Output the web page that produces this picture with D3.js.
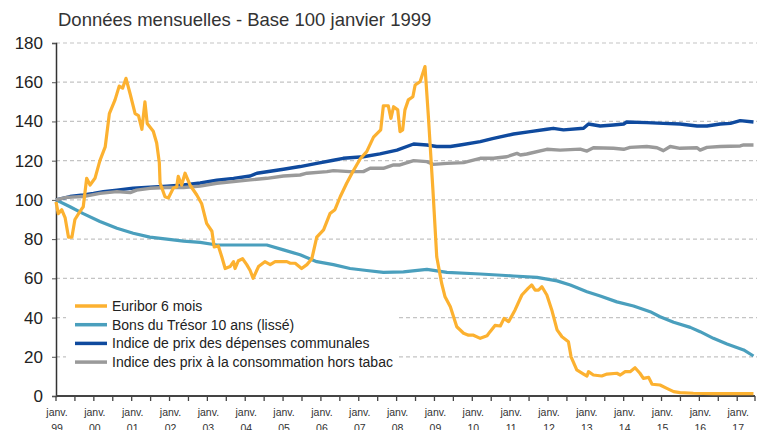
<!DOCTYPE html>
<html>
<head>
<meta charset="utf-8">
<script src="https://cdn.jsdelivr.net/npm/d3@7"></script>
<style>
  html, body { margin: 0; padding: 0; background: #fff; }
  svg { display: block; font-family: "Liberation Sans", Arial, sans-serif; }
</style>
</head>
<body>
<div id="chart"></div>
<script>
// [decimal year, value]
const euribor = [
  [1999.00, 99], [1999.06, 93], [1999.15, 95], [1999.24, 91], [1999.33, 81], [1999.42, 81],
  [1999.50, 90], [1999.63, 94], [1999.72, 96.5], [1999.81, 111], [1999.90, 107.6], [2000.03, 111],
  [2000.16, 120], [2000.30, 127], [2000.41, 144], [2000.56, 151], [2000.67, 158], [2000.76, 157],
  [2000.85, 162], [2000.96, 154], [2001.09, 144], [2001.18, 143], [2001.27, 136], [2001.35, 150],
  [2001.41, 139], [2001.57, 135], [2001.66, 129], [2001.73, 119], [2001.75, 108.6], [2001.88, 101.6],
  [2001.97, 101], [2002.10, 106], [2002.19, 106.7], [2002.23, 112], [2002.32, 107.6], [2002.41, 113.6],
  [2002.54, 107.6], [2002.72, 102.5], [2002.85, 98], [2002.98, 88], [2003.12, 84], [2003.18, 76],
  [2003.29, 76.5], [2003.38, 71], [2003.47, 65], [2003.60, 66], [2003.69, 68.5], [2003.73, 65],
  [2003.82, 69], [2003.93, 70], [2004.04, 67], [2004.13, 64], [2004.21, 60], [2004.35, 66],
  [2004.52, 68.5], [2004.66, 67], [2004.79, 68.5], [2004.97, 68.5], [2005.10, 68.5], [2005.19, 67.7],
  [2005.32, 67.7], [2005.49, 65], [2005.63, 67], [2005.76, 70], [2005.89, 81], [2006.07, 84.7],
  [2006.24, 93], [2006.37, 95], [2006.51, 101.6], [2006.68, 108.5], [2006.86, 115], [2007.04, 121],
  [2007.21, 124.6], [2007.39, 132], [2007.58, 135.7], [2007.65, 148], [2007.78, 148], [2007.85, 141.6],
  [2007.92, 147.5], [2008.03, 145.9], [2008.09, 134.8], [2008.16, 135.7], [2008.22, 145.9], [2008.31, 151],
  [2008.43, 152.6], [2008.49, 158.6], [2008.62, 160.3], [2008.75, 168], [2008.84, 142.4], [2008.96, 105],
  [2009.06, 71], [2009.19, 57.5], [2009.28, 50.6], [2009.42, 45.5], [2009.59, 35.3], [2009.77, 32],
  [2009.90, 31], [2010.03, 31], [2010.21, 29.4], [2010.39, 30.7], [2010.47, 32.8], [2010.60, 36],
  [2010.74, 35.7], [2010.84, 39.6], [2010.96, 37.9], [2011.13, 43.9], [2011.31, 51.5], [2011.48, 55],
  [2011.57, 56.6], [2011.66, 54], [2011.75, 54], [2011.84, 55.7], [2011.97, 51.5], [2012.10, 43.9],
  [2012.24, 33.7], [2012.37, 30.2], [2012.54, 27.7], [2012.61, 20], [2012.76, 13.3], [2012.94, 11.2],
  [2013.03, 10.2], [2013.07, 12.4], [2013.20, 10.7], [2013.42, 10.2], [2013.56, 11.2], [2013.82, 11.6],
  [2013.91, 10.7], [2014.04, 12.4], [2014.17, 12.4], [2014.30, 14.4], [2014.43, 11.6], [2014.52, 9],
  [2014.66, 9.5], [2014.75, 6], [2014.96, 5.6], [2015.14, 3.9], [2015.32, 2.2], [2015.49, 1.7],
  [2015.84, 1.4], [2016.37, 1.2], [2017.43, 1.2]
];

const bonsTresor = [
  [1999.00, 100], [1999.37, 96.5], [1999.72, 93], [2000.16, 89], [2000.61, 85.5], [2001.04, 83],
  [2001.48, 81], [2001.93, 80], [2002.37, 79], [2002.81, 78.3], [2003.25, 77], [2003.69, 77],
  [2004.57, 77], [2005.01, 74.5], [2005.45, 72], [2005.89, 68.5], [2006.33, 67], [2006.77, 65],
  [2007.21, 64], [2007.65, 63], [2008.18, 63.3], [2008.80, 64.6], [2009.33, 63], [2010.21, 62.2],
  [2011.09, 61.2], [2011.71, 60.5], [2012.24, 58.7], [2012.59, 56.6], [2013.03, 53.2], [2013.38, 51],
  [2013.82, 48], [2014.26, 45.9], [2014.70, 43], [2014.96, 40.4], [2015.32, 37.6], [2015.76, 35],
  [2016.02, 32.8], [2016.37, 29.4], [2016.73, 26.5], [2017.17, 23.5], [2017.43, 20.4]
];

const depensesCommunales = [
  [1999.00, 100], [1999.37, 101.7], [1999.72, 102.5], [1999.99, 103.3], [2000.25, 104.2], [2000.61, 105],
  [2001.04, 106], [2001.48, 106.5], [2001.93, 107], [2002.37, 107.6], [2002.81, 108.6], [2003.25, 110],
  [2003.69, 111], [2004.13, 112.2], [2004.31, 113.6], [2005.01, 115.6], [2005.45, 117], [2005.89, 118.6],
  [2006.33, 120.2], [2006.59, 121.2], [2007.12, 122], [2007.56, 123.5], [2008.01, 125.4], [2008.45, 128.5],
  [2008.80, 128], [2009.06, 127.2], [2009.42, 127.2], [2009.68, 128], [2010.21, 129.7], [2010.56, 131.4],
  [2011.09, 133.6], [2011.53, 134.8], [2011.97, 136], [2012.14, 136.5], [2012.41, 135.7], [2012.94, 136.5],
  [2013.07, 138.7], [2013.38, 137.7], [2013.73, 138.2], [2014.00, 138.7], [2014.08, 139.7], [2014.61, 139.4],
  [2015.05, 139], [2015.49, 138.7], [2015.94, 137.7], [2016.20, 137.7], [2016.55, 138.7], [2016.82, 139],
  [2017.08, 140.4], [2017.43, 139.7]
];

const prixConso = [
  [1999.00, 100], [1999.28, 101.3], [1999.72, 101.7], [2000.16, 103.3], [2000.61, 104.2], [2000.96, 103.7],
  [2001.13, 105], [2001.48, 105.9], [2001.93, 106.3], [2002.37, 106.3], [2002.81, 107], [2003.25, 108.5],
  [2003.69, 109.3], [2004.13, 110.2], [2004.57, 111], [2005.01, 112.2], [2005.45, 112.7], [2005.63, 113.6],
  [2006.16, 114.4], [2006.33, 114.9], [2006.77, 114.4], [2007.12, 114.4], [2007.30, 116.1], [2007.65, 116.1],
  [2007.92, 117.8], [2008.09, 117.8], [2008.45, 120], [2008.80, 119.5], [2008.97, 118.1], [2009.33, 118.6],
  [2009.77, 119], [2010.21, 121.2], [2010.56, 121.2], [2010.91, 122], [2011.18, 123.7], [2011.27, 122.9],
  [2011.44, 123.4], [2011.97, 125.8], [2012.32, 125.4], [2012.85, 125.9], [2013.03, 124.9], [2013.20, 126.6],
  [2013.73, 126.3], [2014.00, 125.8], [2014.17, 126.8], [2014.61, 127.2], [2014.88, 126.6], [2015.05, 125.1],
  [2015.23, 127.2], [2015.49, 126.3], [2015.94, 126.6], [2016.02, 125.4], [2016.20, 126.8], [2016.55, 127.2],
  [2017.08, 127.5], [2017.17, 128], [2017.43, 128]
];

const yTicks = [0, 20, 40, 60, 80, 100, 120, 140, 160, 180];
const yearLabels = ["99", "00", "01", "02", "03", "04", "05", "06", "07", "08",
  "09", "10", "11", "12", "13", "14", "15", "16", "17"];
const legendLabels = [
  "Euribor 6 mois",
  "Bons du Trésor 10 ans (lissé)",
  "Indice de prix des dépenses communales",
  "Indice des prix à la consommation hors tabac"
];

const width = 763, height = 430;
const svg = d3.select("#chart").append("svg")
  .attr("width", width)
  .attr("height", height);

const x = d3.scaleLinear().domain([1999, 2017.47]).range([56, 755]);
const y = d3.scaleLinear().domain([0, 180]).range([396, 43]);

svg.append("text")
  .attr("x", 58).attr("y", 26)
  .attr("font-size", 18.5).attr("fill", "#333")
  .text("Données mensuelles - Base 100 janvier 1999");

// grid
svg.append("g")
  .selectAll("line")
  .data(yTicks.filter((d) => d > 0))
  .join("line")
  .attr("x1", x(1999)).attr("x2", 757)
  .attr("y1", (d) => y(d)).attr("y2", (d) => y(d))
  .attr("stroke", "#c4c4c4").attr("stroke-width", 1.2)
  .attr("stroke-dasharray", "4,3");

// y axis
const yAxis = svg.append("g")
  .attr("transform", `translate(${x(1999)},0)`)
  .call(d3.axisLeft(y).tickValues(yTicks).tickSize(4).tickPadding(9));
yAxis.select(".domain").attr("stroke", "#333").attr("stroke-width", 1.5);
yAxis.selectAll(".tick line").attr("stroke", "#555");
yAxis.selectAll(".tick text")
  .attr("font-size", 17).attr("font-family", "Liberation Sans, Arial, sans-serif")
  .attr("fill", "#222");

// x axis: a tick every half year
const halfYears = d3.range(1999, 2017.6, 0.5).concat([2017.47]).filter((d) => d <= 2017.47);
svg.append("g")
  .selectAll("line")
  .data(halfYears)
  .join("line")
  .attr("x1", (d) => x(d)).attr("x2", (d) => x(d))
  .attr("y1", 396).attr("y2", 401)
  .attr("stroke", "#444").attr("stroke-width", 1.3);

svg.append("line")
  .attr("x1", x(1999)).attr("x2", x(2017.47))
  .attr("y1", y(0)).attr("y2", y(0))
  .attr("stroke", "#444").attr("stroke-width", 2);

const xLabels = svg.append("g")
  .selectAll("text")
  .data(yearLabels)
  .join("text")
  .attr("text-anchor", "middle")
  .attr("font-size", 10.5)
  .attr("fill", "#333");
xLabels.append("tspan").attr("x", (d, i) => x(1999 + i) + 1).attr("y", 416).text("janv.");
xLabels.append("tspan").attr("x", (d, i) => x(1999 + i) + 1).attr("y", 432).text((d) => d);

// series
const line = d3.line().x((d) => x(d[0])).y((d) => y(d[1]));
const series = [
  { data: bonsTresor, color: "#4a9fbd", w: 3.2 },
  { data: depensesCommunales, color: "#0f4a9e", w: 3.4 },
  { data: prixConso, color: "#9a9a9a", w: 3.4 },
  { data: euribor, color: "#fcb130", w: 3.2 }
];
svg.append("g")
  .selectAll("path")
  .data(series)
  .join("path")
  .attr("d", (d) => line(d.data))
  .attr("fill", "none")
  .attr("stroke", (d) => d.color)
  .attr("stroke-width", (d) => d.w)
  .attr("stroke-linejoin", "round");

// legend
const legendColors = ["#fcb130", "#4a9fbd", "#0f4a9e", "#9a9a9a"];
const legend = svg.append("g");
legend.append("rect")
  .attr("x", 66).attr("y", 293).attr("width", 332).attr("height", 78)
  .attr("fill", "#fff");
const items = legend.selectAll("g")
  .data(legendLabels)
  .join("g")
  .attr("transform", (d, i) => `translate(75, ${306 + i * 18.7})`);
items.append("line")
  .attr("x1", 0).attr("x2", 32)
  .attr("stroke", (d, i) => legendColors[i])
  .attr("stroke-width", 3.5);
items.append("text")
  .attr("x", 37).attr("y", 5)
  .attr("font-size", 14).attr("fill", "#222")
  .text((d) => d);
</script>
</body>
</html>
